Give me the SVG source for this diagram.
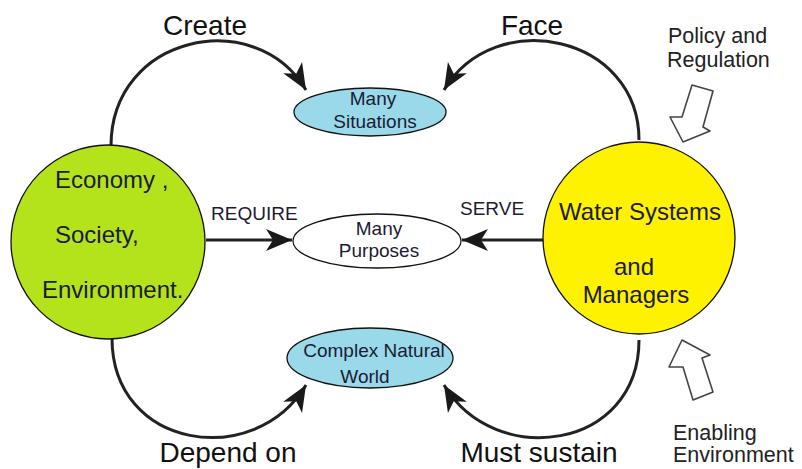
<svg xmlns="http://www.w3.org/2000/svg" width="802" height="469" viewBox="0 0 802 469">
<style>
  text { font-family: "Liberation Sans", Arial, sans-serif; fill: #1b1b33; }
  .big { font-size: 28px; fill: #111; }
  .circ { font-size: 24px; }
  .ell { font-size: 19px; text-anchor: middle; }
  .lab { font-size: 19px; }
  .side { font-size: 21.5px; fill: #222; }
  .node { stroke: #111; stroke-width: 1.3; }
  .conn { fill: none; stroke: #222; stroke-width: 3; }
  .hollow { fill: #fff; stroke: #444; stroke-width: 1.6; stroke-linejoin: round; }
</style>
<defs>
  <marker id="ah" markerUnits="userSpaceOnUse" markerWidth="28" markerHeight="24" refX="26" refY="11" orient="auto" overflow="visible">
    <path d="M0,0 L26,11 L0,22 L7,11 z" fill="#1a1a1a"/>
  </marker>
</defs>

<g id="connectors">
  <path class="conn" d="M111,146 C111,35 255,5 306,90" marker-end="url(#ah)"/>
  <path class="conn" d="M639,140 C639,35 495,5 444,90" marker-end="url(#ah)"/>
  <path class="conn" d="M112,338 C112,450 255,470 306,385" marker-end="url(#ah)"/>
  <path class="conn" d="M639,340 C639,450 495,470 444,385" marker-end="url(#ah)"/>
  <path class="conn" d="M206,240 L292,240" marker-end="url(#ah)"/>
  <path class="conn" d="M543,240 L462,240" marker-end="url(#ah)"/>
</g>

<g id="economy">
  <circle class="node" cx="108" cy="242" r="97" fill="#b4e31c"/>
  <text class="circ" x="55" y="188">Economy ,</text>
  <text class="circ" x="55" y="243">Society,</text>
  <text class="circ" x="42" y="298">Environment.</text>
</g>

<g id="water">
  <circle class="node" cx="639" cy="238" r="96" fill="#fff200"/>
  <text class="circ" x="640" y="220" text-anchor="middle">Water Systems</text>
  <text class="circ" x="634" y="275" text-anchor="middle">and</text>
  <text class="circ" x="636" y="303" text-anchor="middle">Managers</text>
</g>

<g id="situations">
  <ellipse class="node" cx="370" cy="112" rx="76" ry="24" fill="#99d9ea"/>
  <text class="ell" x="373" y="105">Many</text>
  <text class="ell" x="375" y="128">Situations</text>
</g>

<g id="purposes">
  <ellipse class="node" cx="377" cy="241" rx="84" ry="27" fill="#fff"/>
  <text class="ell" x="379" y="235">Many</text>
  <text class="ell" x="379" y="257">Purposes</text>
</g>

<g id="natural">
  <ellipse class="node" cx="370" cy="358" rx="83" ry="30" fill="#99d9ea"/>
  <text class="ell" x="374" y="357">Complex Natural</text>
  <text class="ell" x="365" y="383">World</text>
</g>

<g id="labels">
  <text class="big" x="205" y="35" text-anchor="middle">Create</text>
  <text class="big" x="532" y="35" text-anchor="middle">Face</text>
  <text class="big" x="228" y="462" text-anchor="middle">Depend on</text>
  <text class="big" x="539" y="462" text-anchor="middle">Must sustain</text>
  <text class="lab" x="211" y="220">REQUIRE</text>
  <text class="lab" x="460" y="215">SERVE</text>
</g>

<g id="policy">
  <text class="side" x="668" y="43">Policy and</text>
  <text class="side" x="667" y="67">Regulation</text>
  <polygon class="hollow" points="692,85 713,91 703,127 710,131 683,142 670,117 682,117"/>
</g>

<g id="enabling">
  <polygon class="hollow" points="682,340 710,355 702,358 713,392 693,400 683,367 669,367"/>
  <text class="side" x="673" y="440">Enabling</text>
  <text class="side" x="673" y="462">Environment</text>
</g>
</svg>
